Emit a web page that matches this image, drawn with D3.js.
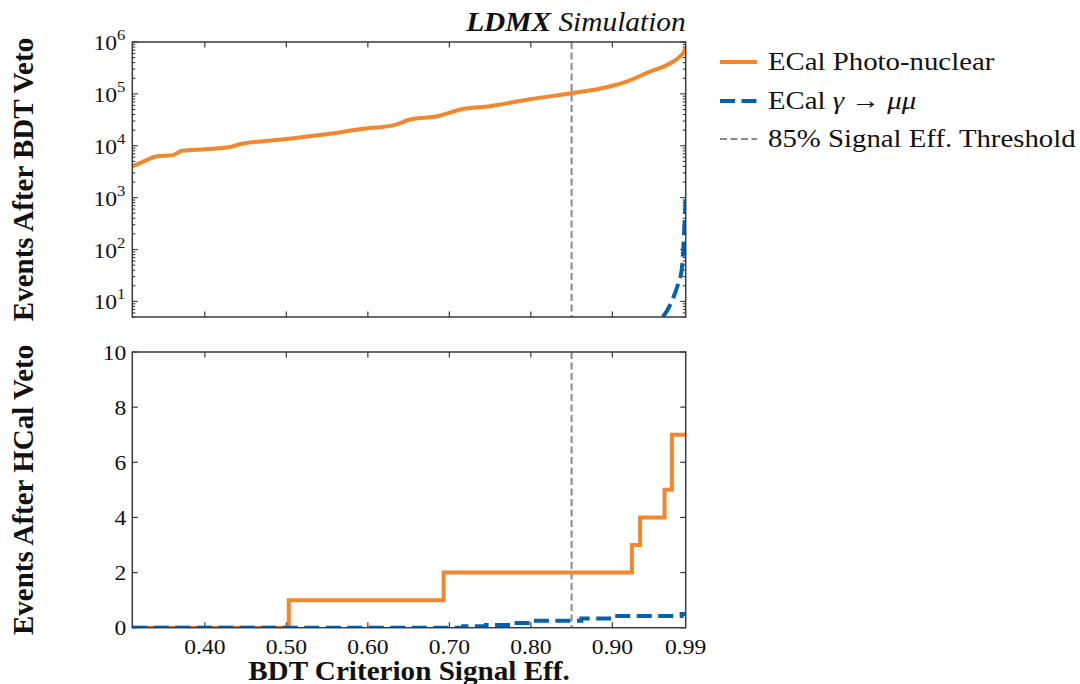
<!DOCTYPE html>
<html><head><meta charset="utf-8">
<script src="https://cdn.jsdelivr.net/npm/d3@7"></script>
<style>
body{margin:0;background:#fff;}
svg{display:block;font-family:"Liberation Serif","Times New Roman",serif;}
</style></head>
<body><svg id="c" width="1080" height="684"></svg>
<script>
// ---- data ----
const bdtEff = [0.311, 0.325, 0.341, 0.361, 0.372, 0.40, 0.431, 0.443, 0.497, 0.558, 0.591, 0.632, 0.652, 0.685, 0.714, 0.750, 0.799, 0.850, 0.893, 0.918, 0.946, 0.971, 0.983, 0.989, 0.990];
const bdtPN = [4000, 5000, 6300, 6600, 8000, 8600, 9500, 10700, 13300, 17400, 21000, 25000, 32000, 37000, 50000, 58000, 79000, 103000, 134000, 174000, 268000, 390000, 525000, 700000, 780000];
const bdtMuEff = [0.962, 0.968, 0.974, 0.980, 0.985, 0.987, 0.988, 0.989, 0.990];
const bdtMu = [5, 7, 11, 20, 40, 100, 210, 450, 900];
const hcalEff = [0.311, 0.503, 0.693, 0.924, 0.934, 0.964, 0.973, 0.990];
const hcalPN = [0, 1, 2, 3, 4, 5, 7, 7];
const hcalMuEff = [0.311, 0.717, 0.745, 0.775, 0.802, 0.862, 0.902, 0.985, 0.990];
const hcalMu = [0, 0.05, 0.1, 0.17, 0.25, 0.33, 0.42, 0.5, 0.5];
const xTicks = [0.40, 0.50, 0.60, 0.70, 0.80, 0.90, 0.99];
const logTicks = [1, 2, 3, 4, 5, 6];
const linTicks = [0, 2, 4, 6, 8, 10];
const threshold = 0.85;
const legendLabels = ["ECal Photo-nuclear", "ECal γ → μμ", "85% Signal Eff. Threshold"];

// ---- layout ----
const svg = d3.select("#c");
const L = 132.3, R = 685.7;
const top1 = 42, bot1 = 317, top2 = 352, bot2 = 627.7;
const ORANGE = "#f4862b", BLUE = "#0063b1", GRAY = "#888888", FRAME = "#3a3a3a";
const FS = 20.5, SX = 1.15;

const x = d3.scaleLinear().domain([0.311, 0.99]).range([L, R]);
const y1 = d3.scaleLog().domain([5, 1e6]).range([bot1, top1]);
const y2 = d3.scaleLinear().domain([0, 10]).range([bot2, top2]);

// horizontally stretched text helper
function htext(px, py, sx, size, anchor) {
  return svg.append("g").attr("transform", `translate(${px},${py}) scale(${sx},1)`)
    .append("text").attr("x", 0).attr("y", 0).attr("text-anchor", anchor)
    .attr("font-size", size).attr("fill", "#111");
}

const defs = svg.append("defs");
defs.append("clipPath").attr("id", "cp1").append("rect").attr("x", L).attr("y", top1).attr("width", R - L).attr("height", bot1 - top1);
defs.append("clipPath").attr("id", "cp2").append("rect").attr("x", L).attr("y", top2 - 5).attr("width", R - L).attr("height", bot2 - top2 + 5);

function frame(t, b) {
  svg.append("rect").attr("x", L).attr("y", t).attr("width", R - L).attr("height", b - t)
    .attr("fill", "none").attr("stroke", FRAME).attr("stroke-width", 1.5);
}
function xTickMarks(t, b) {
  const g = svg.append("g").attr("stroke", FRAME).attr("stroke-width", 1.2);
  xTicks.filter(d => d < 0.985).forEach(d => {
    g.append("line").attr("x1", x(d)).attr("x2", x(d)).attr("y1", t).attr("y2", t + 5.5);
    g.append("line").attr("x1", x(d)).attr("x2", x(d)).attr("y1", b).attr("y2", b - 5.5);
  });
}

// ---- top panel ----
{
  const g = svg.append("g").attr("stroke", FRAME).attr("stroke-width", 1.1);
  for (let e = 0; e <= 6; e++) {
    for (let m = 1; m <= 9; m++) {
      const v = m * Math.pow(10, e);
      if (v < 5 || v > 1e6) continue;
      const len = m === 1 ? 5.5 : 3;
      const yy = y1(v);
      g.append("line").attr("x1", L).attr("x2", L + len).attr("y1", yy).attr("y2", yy);
      g.append("line").attr("x1", R).attr("x2", R - len).attr("y1", yy).attr("y2", yy);
    }
  }
}
xTickMarks(top1, bot1);
logTicks.forEach(e => {
  const t = htext(L - 7, y1(Math.pow(10, e)) + 8, SX, FS, "end");
  t.append("tspan").text("10");
  t.append("tspan").attr("dy", -10).attr("font-size", 14.5).text(e);
});
svg.append("line").attr("x1", x(threshold)).attr("x2", x(threshold)).attr("y1", top1).attr("y2", bot1)
  .attr("stroke", GRAY).attr("stroke-width", 2).attr("stroke-dasharray", "7,3.5");
const line1 = d3.line().x(d => x(d[0])).y(d => y1(d[1])).curve(d3.curveMonotoneX);
svg.append("path").attr("clip-path", "url(#cp1)")
  .attr("d", line1(bdtEff.map((e, i) => [e, bdtPN[i]])))
  .attr("fill", "none").attr("stroke", ORANGE).attr("stroke-width", 4).attr("stroke-linejoin", "round");
svg.append("path").attr("clip-path", "url(#cp1)")
  .attr("d", line1(bdtMuEff.map((e, i) => [e, bdtMu[i]])))
  .attr("fill", "none").attr("stroke", BLUE).attr("stroke-width", 4).attr("stroke-dasharray", "15,6.5");
frame(top1, bot1);

// title
{
  const t = htext(R, 31, 1.05, 28, "end").attr("font-style", "italic");
  t.append("tspan").attr("font-weight", "bold").text("LDMX");
  t.append("tspan").text(" Simulation");
}

// ---- bottom panel ----
{
  const g = svg.append("g").attr("stroke", FRAME).attr("stroke-width", 1.2);
  linTicks.forEach(v => {
    g.append("line").attr("x1", L).attr("x2", L + 5.5).attr("y1", y2(v)).attr("y2", y2(v));
    g.append("line").attr("x1", R).attr("x2", R - 5.5).attr("y1", y2(v)).attr("y2", y2(v));
  });
}
xTickMarks(top2, bot2);
linTicks.forEach(v => {
  htext(L - 6, y2(v) + 7.5, SX, FS, "end").text(v);
});
xTicks.forEach(v => {
  htext(x(v), 654, SX, FS, "middle").text(d3.format(".2f")(v));
});
svg.append("line").attr("x1", x(threshold)).attr("x2", x(threshold)).attr("y1", top2).attr("y2", bot2)
  .attr("stroke", GRAY).attr("stroke-width", 2).attr("stroke-dasharray", "7,3.5");
const step2 = d3.line().x(d => x(d[0])).y(d => y2(d[1])).curve(d3.curveStepAfter);
svg.append("path").attr("clip-path", "url(#cp2)")
  .attr("d", step2(hcalEff.map((e, i) => [e, hcalPN[i]])))
  .attr("fill", "none").attr("stroke", ORANGE).attr("stroke-width", 4);
svg.append("path").attr("clip-path", "url(#cp2)")
  .attr("d", step2(hcalMuEff.map((e, i) => [e, hcalMu[i]])))
  .attr("fill", "none").attr("stroke", BLUE).attr("stroke-width", 4).attr("stroke-dasharray", "15,6.5");
frame(top2, bot2);

// axis titles
svg.append("text").attr("transform", `translate(33,${(top1 + bot1) / 2}) rotate(-90)`)
  .attr("text-anchor", "middle").attr("font-size", 29).attr("font-weight", "bold").attr("fill", "#111")
  .text("Events After BDT Veto");
svg.append("text").attr("transform", `translate(33,${(top2 + bot2) / 2}) rotate(-90)`)
  .attr("text-anchor", "middle").attr("font-size", 29).attr("font-weight", "bold").attr("fill", "#111")
  .text("Events After HCal Veto");
htext((L + R) / 2, 680, 1.06, 27.5, "middle").attr("font-weight", "bold")
  .text("BDT Criterion Signal Eff.");

// legend
{
  const rows = [
    {c: ORANGE, w: 4, dash: null},
    {c: BLUE, w: 4, dash: "15,6.5"},
    {c: GRAY, w: 2, dash: "7,3.5"}
  ];
  const ys = [62, 101, 139];
  rows.forEach((r, i) => {
    const ln = svg.append("line").attr("x1", 720).attr("x2", 757).attr("y1", ys[i]).attr("y2", ys[i])
      .attr("stroke", r.c).attr("stroke-width", r.w);
    if (r.dash) ln.attr("stroke-dasharray", r.dash);
    const t = htext(768, ys[i] + 8, 1.13, 25.5, "start");
    if (i === 1) {
      t.append("tspan").text("ECal ");
      t.append("tspan").attr("font-style", "italic").text("γ");
      t.append("tspan").text(" → ");
      t.append("tspan").attr("font-style", "italic").text("μμ");
    } else {
      t.text(legendLabels[i]);
    }
  });
}
</script></body></html>
